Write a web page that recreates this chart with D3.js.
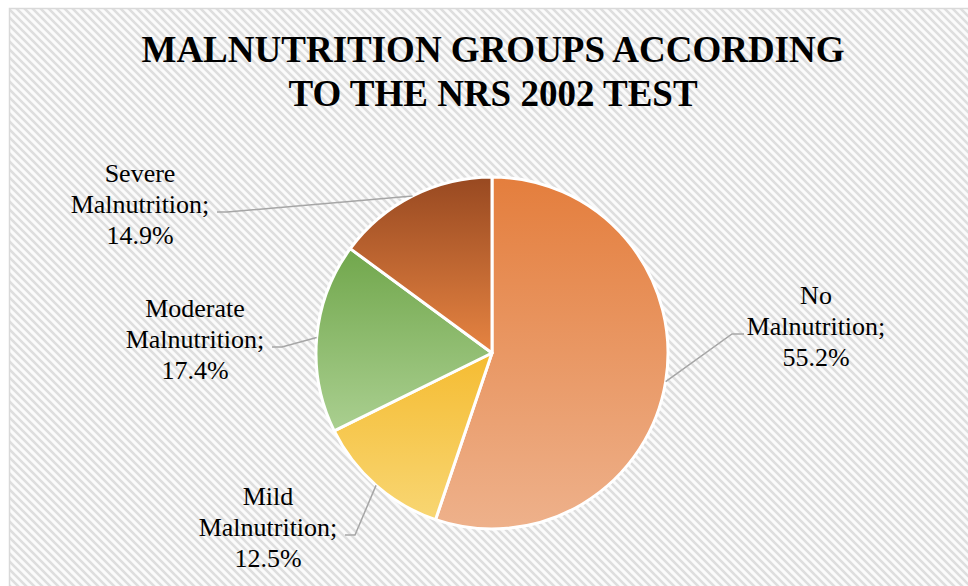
<!DOCTYPE html>
<html>
<head>
<meta charset="utf-8">
<script src="https://cdn.jsdelivr.net/npm/d3@7"></script>
<style>
  html, body { margin: 0; padding: 0; background: #ffffff; }
  svg { display: block; }
</style>
</head>
<body>
<svg id="chart" width="968" height="586"></svg>
<script>
// Malnutrition groups (NRS 2002), shares in percent
const categories = ["No Malnutrition", "Mild Malnutrition", "Moderate Malnutrition", "Severe Malnutrition"];
const values = [55.2, 12.5, 17.4, 14.9];
const labelLines = [
  ["No", "Malnutrition;", "55.2%"],
  ["Mild", "Malnutrition;", "12.5%"],
  ["Moderate", "Malnutrition;", "17.4%"],
  ["Severe", "Malnutrition;", "14.9%"]
];
const titleLines = ["MALNUTRITION GROUPS ACCORDING", "TO THE NRS 2002 TEST"];

// Slice fills: vertical gradient, top colour -> bottom colour
const sliceColors = [
  ["#E47E3D", "#EEB18B"],
  ["#F5BC32", "#F8D673"],
  ["#71A74C", "#AACF90"],
  ["#984921", "#E68442"]
];

// Label block centres (x, first baseline) and leader side
const labelLayout = [
  { x: 816, y: 304, side: "right" },
  { x: 268, y: 505, side: "left" },
  { x: 195, y: 317, side: "left" },
  { x: 140, y: 182, side: "left" }
];

const W = 968, H = 586;
const cx = 492, cy = 353, R = 176;
const fontSerif = "'Liberation Serif', 'Times New Roman', Times, serif";

const svg = d3.select("#chart");
const defs = svg.append("defs");

// Wide downward-diagonal hatch for the chart area
const pat = defs.append("pattern")
  .attr("id", "hatch")
  .attr("patternUnits", "userSpaceOnUse")
  .attr("width", 8).attr("height", 8);
pat.append("rect").attr("width", 8).attr("height", 8).attr("fill", "#fbfbfb");
pat.append("path")
  .attr("d", "M-4,-4 L12,12 M-4,4 L4,12 M4,-4 L12,4")
  .attr("stroke", "#dedede")
  .attr("stroke-width", 2.6);

svg.append("rect")
  .attr("x", 9.5).attr("y", 8.5)
  .attr("width", W + 10).attr("height", H + 10)
  .attr("fill", "url(#hatch)")
  .attr("stroke", "#d9d9d9")
  .attr("stroke-width", 1.5);

// Title
const title = svg.append("text")
  .attr("text-anchor", "middle")
  .attr("font-family", fontSerif)
  .attr("font-weight", "bold")
  .attr("font-size", 37)
  .attr("fill", "#000");
titleLines.forEach((t, i) => {
  title.append("tspan").attr("x", 493).attr("y", 62 + i * 44).text(t);
});

// Pie
const pie = d3.pie().sort(null).value(d => d)(values);
const arc = d3.arc().innerRadius(0).outerRadius(R);

const g = svg.append("g").attr("transform", `translate(${cx},${cy})`);

// One vertical gradient per slice, spanning the slice's own vertical extent
pie.forEach((p, i) => {
  const pts = [[0, 0]];
  const steps = 64;
  for (let k = 0; k <= steps; k++) {
    const a = p.startAngle + (p.endAngle - p.startAngle) * k / steps;
    pts.push([R * Math.sin(a), -R * Math.cos(a)]);
  }
  const y0 = d3.min(pts, q => q[1]), y1 = d3.max(pts, q => q[1]);
  const grad = defs.append("linearGradient")
    .attr("id", "grad" + i)
    .attr("gradientUnits", "userSpaceOnUse")
    .attr("x1", 0).attr("x2", 0)
    .attr("y1", y0).attr("y2", y1);
  grad.append("stop").attr("offset", "0%").attr("stop-color", sliceColors[i][0]);
  grad.append("stop").attr("offset", "100%").attr("stop-color", sliceColors[i][1]);
});

g.selectAll("path.slice")
  .data(pie)
  .join("path")
  .attr("class", "slice")
  .attr("d", arc)
  .attr("fill", (d, i) => `url(#grad${i})`)
  .attr("stroke", "#ffffff")
  .attr("stroke-width", 3)
  .attr("stroke-linejoin", "round");

// Leader lines: from the slice's mid-angle on the rim to the label
const lineGen = d3.line();
pie.forEach((p, i) => {
  const mid = (p.startAngle + p.endAngle) / 2;
  const ex = cx + R * Math.sin(mid), ey = cy - R * Math.cos(mid);
  const L = labelLayout[i];
  const midY = L.y + 30;
  const half = 70;
  let endX, elbowX;
  if (L.side === "right") {
    endX = L.x - half - 2; elbowX = endX - 12;
  } else {
    endX = L.x + half + 7; elbowX = endX + 10;
  }
  svg.append("path")
    .attr("d", lineGen([[endX, midY], [elbowX, midY], [ex, ey]]))
    .attr("fill", "none")
    .attr("stroke", "#a6a6a6")
    .attr("stroke-width", 1.5);
});

// Data labels
labelLines.forEach((lines, i) => {
  const L = labelLayout[i];
  const t = svg.append("text")
    .attr("text-anchor", "middle")
    .attr("font-family", fontSerif)
    .attr("font-size", 26)
    .attr("fill", "#000");
  lines.forEach((s, k) => {
    t.append("tspan").attr("x", L.x).attr("y", L.y + k * 31).text(s);
  });
});
</script>
</body>
</html>
